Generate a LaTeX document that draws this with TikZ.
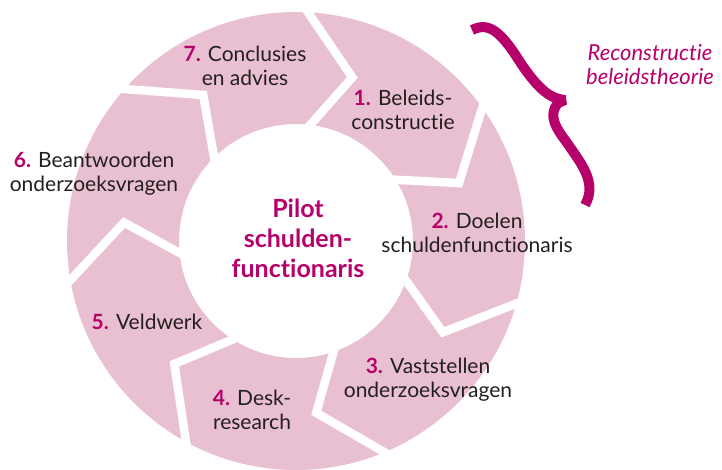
\documentclass[tikz,border=0pt]{standalone}
\usepackage{fontspec}
\setmainfont{Lato}[Ligatures={NoCommon}]
\usepackage{tikz}
\usetikzlibrary{positioning}
\definecolor{ringpink}{RGB}{233,192,209}
\definecolor{accent}{RGB}{182,0,106}
\definecolor{textgray}{RGB}{35,31,32}
\tikzstyle{lbl} = [text=textgray, font=\fontsize{21}{24}\selectfont, align=center, inner sep=0pt]
\tikzstyle{hub} = [text=accent, font=\bfseries\fontsize{25}{30}\selectfont, align=center, inner sep=0pt]
\tikzstyle{gap} = [draw=white, line width=8.5pt, shorten <=-12pt, shorten >=-12pt]
\tikzstyle{brace} = [draw=accent, line width=10pt, line join=bevel]
\newcommand{\stepnr}[1]{{\bfseries\color{accent}#1}}

\begin{document}
\begin{tikzpicture}[x=1pt, y=1pt]
\useasboundingbox (-296,-228) rectangle (426,241);

% ring =============================
\fill[ringpink, even odd rule] (0,0) circle (229pt) (0,0) circle (117pt);

% chevron gaps between the steps
\foreach \k in {0,...,6} {
  \pgfmathsetmacro{\b}{85-360/7*\k}
  \draw[gap] (\b+2:229pt) -- (\b-14:173pt) -- (\b-2:117pt);
}

% labels
\node[lbl] (t1) at (107,131) {\stepnr{1.} Beleids-\\constructie};
\node[lbl] (t2) at (181,8) {\stepnr{2.} Doelen\\schuldenfunctionaris};
\node[lbl] (t3) at (132,-139) {\stepnr{3.} Vaststellen\\onderzoeksvragen};
\node[lbl] (t4) at (-44,-169) {\stepnr{4.} Desk-\\research};
\node[lbl] (t5) at (-149,-81) {\stepnr{5.} Veldwerk};
\node[lbl] (t6) at (-202,67) {\stepnr{6.} Beantwoorden\\onderzoeksvragen};
\node[lbl] (t7) at (-51,175) {\stepnr{7.} Conclusies\\en advies};

\node[hub] (pilot) at (2,3) {Pilot\\schulden-\\functionaris};

% brace =============================
\draw[brace] (176,211) .. controls (192,219) and (204,211) .. (224,179)
  .. controls (244,149) and (256,142) .. (269,141)
  -- (262,138) .. controls (254,128) and (256,118) .. (269,101)
  .. controls (284,79) and (302,59) .. (289,36);

\node[lbl, text=accent, font=\itshape\fontsize{22}{24}\selectfont] (recon) at (354,176) {Reconstructie\\beleidstheorie};

\end{tikzpicture}
\end{document}
